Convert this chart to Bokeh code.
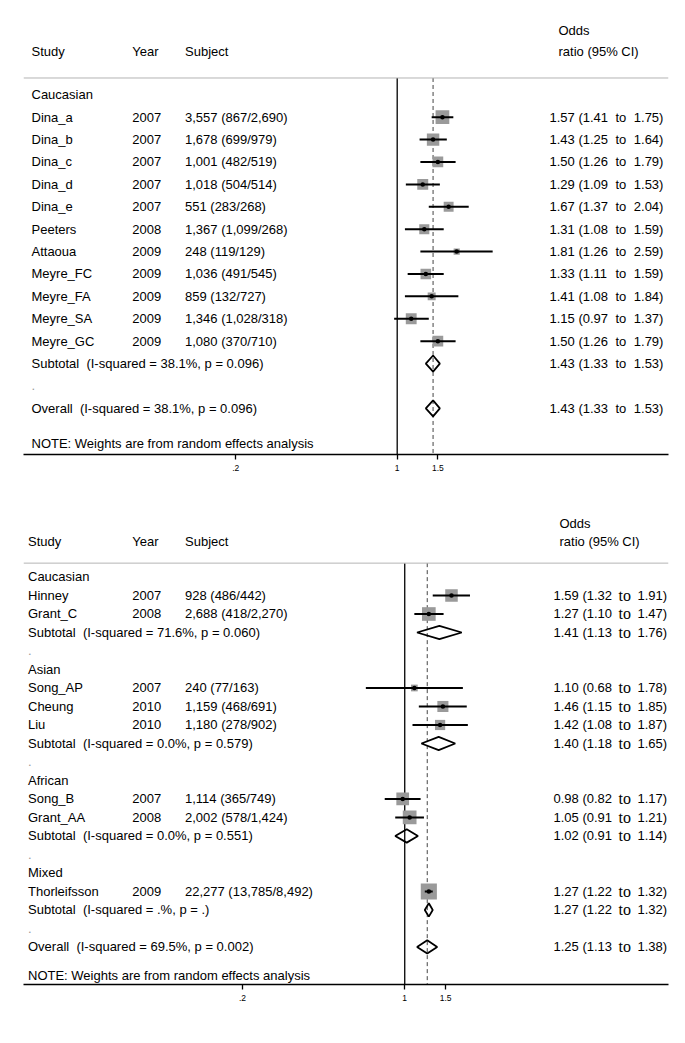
import math
from bokeh.plotting import figure
from bokeh.models import ColumnDataSource, LabelSet, Range1d, FixedTicker, Span
from bokeh.layouts import column
from bokeh.core.properties import value
from bokeh.embed import file_html
from bokeh.resources import INLINE

# ---------------- data: panel 1 ----------------
p1_group = "Caucasian"
p1_study = ["Dina_a", "Dina_b", "Dina_c", "Dina_d", "Dina_e", "Peeters",
            "Attaoua", "Meyre_FC", "Meyre_FA", "Meyre_SA", "Meyre_GC"]
p1_year = ["2007", "2007", "2007", "2007", "2007", "2008",
           "2009", "2009", "2009", "2009", "2009"]
p1_subject = ["3,557 (867/2,690)", "1,678 (699/979)", "1,001 (482/519)",
              "1,018 (504/514)", "551 (283/268)", "1,367 (1,099/268)",
              "248 (119/129)", "1,036 (491/545)", "859 (132/727)",
              "1,346 (1,028/318)", "1,080 (370/710)"]
p1_or = [1.57, 1.43, 1.50, 1.29, 1.67, 1.31, 1.81, 1.33, 1.41, 1.15, 1.50]
p1_lo = [1.41, 1.25, 1.26, 1.09, 1.37, 1.08, 1.26, 1.11, 1.08, 0.97, 1.26]
p1_hi = [1.75, 1.64, 1.79, 1.53, 2.04, 1.59, 2.59, 1.59, 1.84, 1.37, 1.79]
p1_weight = [15.4, 12.6, 9.4, 9.8, 8.0, 8.3, 3.1, 9.1, 5.2, 9.6, 9.4]
p1_sub = [1.43, 1.33, 1.53]
p1_sub_het = "I-squared = 38.1%, p = 0.096"
p1_overall = [1.43, 1.33, 1.53]
p1_overall_het = "I-squared = 38.1%, p = 0.096"

# ---------------- data: panel 2 ----------------
p2_groups = ["Caucasian", "Asian", "African", "Mixed"]
p2_study_group = ["Caucasian", "Caucasian", "Asian", "Asian", "Asian",
                  "African", "African", "Mixed"]
p2_study = ["Hinney", "Grant_C", "Song_AP", "Cheung", "Liu",
            "Song_B", "Grant_AA", "Thorleifsson"]
p2_year = ["2007", "2008", "2007", "2010", "2010", "2007", "2008", "2009"]
p2_subject = ["928 (486/442)", "2,688 (418/2,270)", "240 (77/163)",
              "1,159 (468/691)", "1,180 (278/902)", "1,114 (365/749)",
              "2,002 (578/1,424)", "22,277 (13,785/8,492)"]
p2_or = [1.59, 1.27, 1.10, 1.46, 1.42, 0.98, 1.05, 1.27]
p2_lo = [1.32, 1.10, 0.68, 1.15, 1.08, 0.82, 0.91, 1.22]
p2_hi = [1.91, 1.47, 1.78, 1.85, 1.87, 1.17, 1.21, 1.32]
p2_weight = [12.8, 15.2, 3.7, 10.0, 8.5, 13.2, 15.4, 21.2]
p2_sub_or = [1.41, 1.40, 1.02, 1.27]
p2_sub_lo = [1.13, 1.18, 0.91, 1.22]
p2_sub_hi = [1.76, 1.65, 1.14, 1.32]
p2_sub_het = ["I-squared = 71.6%, p = 0.060", "I-squared = 0.0%, p = 0.579",
              "I-squared = 0.0%, p = 0.551", "I-squared = .%, p = ."]
p2_overall = [1.25, 1.13, 1.38]
p2_overall_het = "I-squared = 69.5%, p = 0.002"

header_cols = ["Study", "Year", "Subject"]
header_or = ["Odds", "ratio (95% CI)"]
note_text = "NOTE: Weights are from random effects analysis"
null_value = 1.0
tick_values = [0.2, 1, 1.5]
tick_labels = [".2", "1", "1.5"]

NB = "\u00a0"
FONT = "Liberation Sans"


def fmt(v):
    return "%.2f" % v


def add_texts(p, xs, ys, texts, size="13px", color="black", font=FONT, y_offset=0):
    src = ColumnDataSource(dict(x=xs, y=ys, t=texts))
    p.add_layout(LabelSet(x="x", y="y", text="t", source=src, x_units="screen",
                          text_font=value(font), text_font_size=size,
                          text_color=color, text_baseline="middle",
                          text_align="left", y_offset=y_offset))


def build_panel(groups, overall, overall_het, x_rng, y_rng, frame_h, top_pad, cols, to_font, to_size):
    p = figure(width=677, height=frame_h + 40 + top_pad, x_axis_type="log",
               x_range=Range1d(*x_rng), y_range=Range1d(*y_rng),
               output_backend="svg", toolbar_location=None, y_axis_location=None,
               min_border_left=23, min_border_right=9, min_border_top=top_pad,
               min_border_bottom=40, outline_line_color=None,
               background_fill_color="white", border_fill_color="white")
    p.grid.visible = False

    ax = p.xaxis[0]
    ax.ticker = FixedTicker(ticks=tick_values)
    ax.major_label_overrides = {t: l for t, l in zip(tick_values, tick_labels)}
    ax.minor_tick_line_color = None
    ax.major_tick_in = 0
    ax.major_tick_out = 5
    ax.axis_line_color = "black"
    ax.axis_line_width = 1.3
    ax.major_tick_line_width = 1.3
    ax.major_label_text_font = FONT
    ax.major_label_text_font_size = "8.5px"
    ax.major_label_text_color = "black"
    ax.major_label_standoff = 5

    sep_row = -0.75
    p.add_layout(Span(location=sep_row, dimension="width",
                      line_color="#b4b4b4", line_width=1))

    left_x, left_y, left_t = [], [], []
    yr_x, yr_y, yr_t = [], [], []
    st = dict(or_=[], lo=[], hi=[], w=[], y=[])
    dia = dict(xs=[], ys=[])
    ort_y, ort_a, ort_b = [], [], []
    dots_y = []
    r = 0
    hh = 0.36
    for name, rows, sub, het in groups:
        left_t.append(name); left_y.append(r); left_x.append(cols[0])
        r += 1
        for row in rows:
            left_t.append(row["study"]); left_y.append(r); left_x.append(cols[0])
            yr_t.append(row["year"]); yr_y.append(r); yr_x.append(cols[1])
            yr_t.append(row["subject"]); yr_y.append(r); yr_x.append(cols[2])
            st["or_"].append(row["or"]); st["lo"].append(row["lo"])
            st["hi"].append(row["hi"]); st["w"].append(row["w"]); st["y"].append(r)
            ort_y.append(r)
            ort_a.append(fmt(row["or"]) + " (" + fmt(row["lo"]))
            ort_b.append(fmt(row["hi"]) + ")")
            r += 1
        left_t.append("Subtotal" + NB + NB + "(" + het + ")"); left_y.append(r); left_x.append(cols[0])
        dia["xs"].append([sub[1], sub[0], sub[2], sub[0]])
        dia["ys"].append([r, r - hh, r, r + hh])
        ort_y.append(r); ort_a.append(fmt(sub[0]) + " (" + fmt(sub[1])); ort_b.append(fmt(sub[2]) + ")")
        r += 1
        dots_y.append(r)
        r += 1
    left_t.append("Overall" + NB + NB + "(" + overall_het + ")"); left_y.append(r); left_x.append(cols[0])
    dia["xs"].append([overall[1], overall[0], overall[2], overall[0]])
    dia["ys"].append([r, r - hh, r, r + hh])
    ort_y.append(r); ort_a.append(fmt(overall[0]) + " (" + fmt(overall[1])); ort_b.append(fmt(overall[2]) + ")")
    note_row = r + 1.55
    left_t.append(note_text); left_y.append(note_row); left_x.append(cols[0])

    bottom = y_rng[0]
    p.segment(x0=[null_value], x1=[null_value], y0=[sep_row], y1=[bottom],
              line_color="black", line_width=1.3)
    p.segment(x0=[overall[0]], x1=[overall[0]], y0=[sep_row], y1=[bottom],
              line_color="#444444", line_width=1, line_dash="4 3")

    src = ColumnDataSource(dict(or_=st["or_"], lo=st["lo"], hi=st["hi"], y=st["y"],
                                size=[3.5 * math.sqrt(w) for w in st["w"]]))
    p.scatter(x="or_", y="y", size="size", marker="square", source=src,
              fill_color="#9a9a9a", line_color=None)
    p.segment(x0="lo", x1="hi", y0="y", y1="y", source=src, line_color="black", line_width=2)
    p.scatter(x="or_", y="y", size=4.5, marker="circle", source=src,
              fill_color="black", line_color=None)
    p.patches(xs="xs", ys="ys", source=ColumnDataSource(dia), fill_color=None,
              line_color="black", line_width=1.8)

    add_texts(p, left_x, left_y, left_t)
    add_texts(p, yr_x, yr_y, yr_t)
    add_texts(p, [cols[0]] * len(dots_y), dots_y, ["."] * len(dots_y), color="#9a9a9a")
    add_texts(p, [cols[3]] * len(ort_y), ort_y, ort_a)
    add_texts(p, [cols[4]] * len(ort_y), ort_y, ["to"] * len(ort_y), size=to_size, font=to_font)
    add_texts(p, [cols[5]] * len(ort_y), ort_y, ort_b)
    add_texts(p, cols[:3], [-1.93] * 3, header_cols)
    add_texts(p, [cols[6], cols[6]], [-2.88, -1.93], header_or)
    return p


p1_rows = [dict(study=s, year=y, subject=sb, w=w, lo=l, hi=h, **{"or": o})
           for s, y, sb, o, l, h, w in zip(p1_study, p1_year, p1_subject, p1_or, p1_lo, p1_hi, p1_weight)]
p1_groups = [(p1_group, p1_rows, p1_sub, p1_sub_het)]

p2_grp = []
for gi, g in enumerate(p2_groups):
    rows = [dict(study=s, year=y, subject=sb, w=w, lo=l, hi=h, **{"or": o})
            for s, y, sb, o, l, h, w, gg in zip(p2_study, p2_year, p2_subject, p2_or,
                                               p2_lo, p2_hi, p2_weight, p2_study_group) if gg == g]
    p2_grp.append((g, rows, [p2_sub_or[gi], p2_sub_lo[gi], p2_sub_hi[gi]], p2_sub_het[gi]))

top = build_panel(p1_groups, p1_overall, p1_overall_het,
                  x_rng=(0.0241, 14.95), y_rng=(16.06, -3.853), frame_h=446, top_pad=8,
                  cols=[8, 108.7, 161.5, 526, 592, 610.3, 535],
                  to_font=FONT, to_size="13px")
bot = build_panel(p2_grp, p2_overall, p2_overall_het,
                  x_rng=(0.0228, 13.68), y_rng=(22.03, -4.46), frame_h=490, top_pad=0,
                  cols=[4.5, 108.7, 161.5, 530, 595, 614, 536],
                  to_font="Liberation Serif", to_size="16px")

layout = column(top, bot, spacing=0)
open("out.html", "w").write(file_html(layout, INLINE))
